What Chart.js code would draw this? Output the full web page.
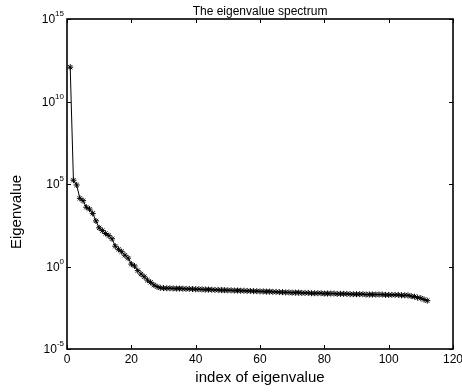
<!DOCTYPE html>
<html>
<head>
<meta charset="utf-8">
<title>The eigenvalue spectrum</title>
<script src="https://cdn.jsdelivr.net/npm/chart.js@4.4.0/dist/chart.umd.min.js"></script>
<style>
  html, body { margin: 0; padding: 0; background: #fff; }
  #wrap { width: 462px; height: 392px; }
</style>
</head>
<body>
<div id="wrap"><canvas id="spectrum"></canvas></div>
<script>
// eigenvalues, in order of index 1..112
const eigenvalues = [
  1.2e12, 1.7e5, 8.7e4, 1.35e4, 9.8e3, 3.9e3, 3.0e3, 1.66e3, 5.8e2, 2.2e2,
  1.5e2, 1.0e2, 74, 48, 17, 11, 7.9, 4.8, 3.2, 1.4,
  1.07, 0.56, 0.35, 0.24, 0.15, 0.11, 0.076, 0.060, 0.051, 0.049,
  0.048, 0.048, 0.047, 0.046, 0.046, 0.045, 0.044, 0.044, 0.043, 0.042,
  0.042, 0.041, 0.040, 0.040, 0.039, 0.038, 0.038, 0.037, 0.037, 0.036,
  0.036, 0.035, 0.035, 0.034, 0.034, 0.033, 0.033, 0.032, 0.032, 0.031,
  0.031, 0.030, 0.030, 0.029, 0.029, 0.028, 0.028, 0.027, 0.027, 0.026,
  0.026, 0.026, 0.025, 0.025, 0.025, 0.024, 0.024, 0.024, 0.024, 0.023,
  0.023, 0.023, 0.023, 0.022, 0.022, 0.022, 0.022, 0.021, 0.021, 0.021,
  0.021, 0.021, 0.020, 0.020, 0.020, 0.020, 0.020, 0.020, 0.019, 0.019,
  0.019, 0.019, 0.019, 0.018, 0.018, 0.0178, 0.016, 0.015, 0.013, 0.012,
  0.010, 0.0085
];
const xTicks = [0, 20, 40, 60, 80, 100, 120];
const yTicks = [1e-5, 1e0, 1e5, 1e10, 1e15];
const yTickExponents = ['-5', '0', '5', '10', '15'];

const FONT = '"Liberation Sans", Arial, Helvetica, sans-serif';

// box, inward ticks on all four sides, and all text
const axesBox = {
  id: 'axesBox',
  afterDraw(chart) {
    const { ctx, chartArea: a, scales: { x, y } } = chart;
    ctx.save();

    ctx.strokeStyle = '#000';
    ctx.lineWidth = 1;
    ctx.beginPath();
    xTicks.forEach(v => {
      const px = Math.round(x.getPixelForValue(v)) + 0.5;
      ctx.moveTo(px, a.bottom); ctx.lineTo(px, a.bottom - 4);
      ctx.moveTo(px, a.top); ctx.lineTo(px, a.top + 4);
    });
    yTicks.forEach(v => {
      const py = Math.round(y.getPixelForValue(v)) + 0.5;
      ctx.moveTo(a.left, py); ctx.lineTo(a.left + 4, py);
      ctx.moveTo(a.right, py); ctx.lineTo(a.right - 4, py);
    });
    ctx.stroke();

    ctx.lineWidth = 1.6;
    ctx.strokeRect(a.left, a.top, a.right - a.left, a.bottom - a.top);

    ctx.fillStyle = '#000';
    ctx.textBaseline = 'alphabetic';

    // x tick labels
    ctx.font = '12px ' + FONT;
    ctx.textAlign = 'center';
    xTicks.forEach(v => ctx.fillText(String(v), x.getPixelForValue(v), a.bottom + 14));

    // y tick labels as 10 with superscript exponent
    ctx.textAlign = 'left';
    yTicks.forEach((v, i) => {
      const py = y.getPixelForValue(v);
      ctx.font = '8px ' + FONT;
      const supW = ctx.measureText(yTickExponents[i]).width;
      ctx.font = '12px ' + FONT;
      const baseW = ctx.measureText('10').width;
      const x0 = a.left - 3 - supW - baseW;
      ctx.fillText('10', x0, py + 4);
      ctx.font = '8px ' + FONT;
      ctx.fillText(yTickExponents[i], x0 + baseW, py - 3);
    });

    const cx = (a.left + a.right) / 2;
    const cy = (a.top + a.bottom) / 2;

    ctx.textAlign = 'center';
    ctx.font = '12px ' + FONT;
    ctx.fillText('The eigenvalue spectrum', cx, a.top - 4);

    ctx.font = '15px ' + FONT;
    ctx.fillText('index of eigenvalue', cx, a.bottom + 33);

    ctx.translate(21, cy + 28);
    ctx.rotate(-Math.PI / 2);
    ctx.fillText('Eigenvalue', 0, 0);

    ctx.restore();
  }
};

const ctx = document.getElementById('spectrum').getContext('2d');
const spectrumChart = new Chart(ctx, {
  type: 'scatter',
  data: {
    datasets: [{
      data: eigenvalues.map((v, i) => ({ x: i + 1, y: v })),
      showLine: true,
      borderColor: '#000',
      borderWidth: 1,
      pointStyle: 'star',
      pointRadius: 3,
      pointBorderColor: '#000',
      pointBorderWidth: 1,
      pointBackgroundColor: '#000'
    }]
  },
  options: {
    responsive: true,
    maintainAspectRatio: false,
    animation: false,
    devicePixelRatio: 1,
    layout: { padding: { left: 67, right: 9, top: 19, bottom: 43 } },
    plugins: {
      legend: { display: false },
      tooltip: { enabled: false }
    },
    scales: {
      x: { type: 'linear', min: 0, max: 120, display: false },
      y: { type: 'logarithmic', min: 1e-5, max: 1e15, display: false }
    }
  },
  plugins: [axesBox]
});
</script>
</body>
</html>
